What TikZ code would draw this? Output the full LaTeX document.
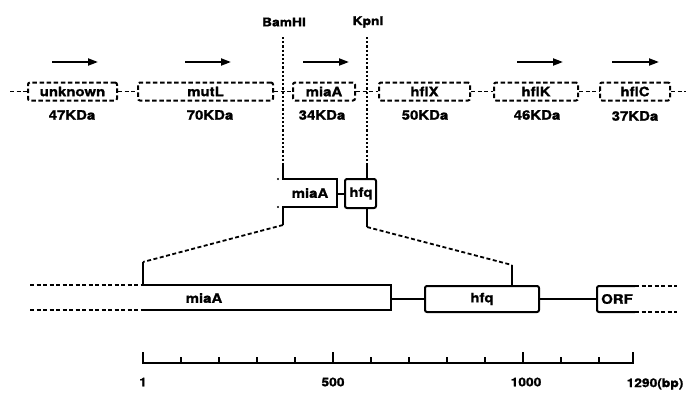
\documentclass[tikz,border=0pt]{standalone}
\usepackage{fontspec}
\setmainfont{TeX Gyre Heros}[FakeStretch=1.15,FakeBold=1.2]
\usetikzlibrary{arrows.meta}
\begin{document}
\begin{tikzpicture}[x=1pt,y=-1pt,
  every node/.style={font=\fontsize{13}{15}\selectfont\bfseries, inner sep=0pt},
  gene/.style={draw, dashed, dash pattern=on 4.5pt off 2.6pt, line width=2pt, rounded corners=2pt, minimum height=18pt},
  link/.style={dash pattern=on 4pt off 2.5pt, line width=1.8pt},
  dots/.style={dash pattern=on 2.2pt off 2pt, line width=1.5pt},
  solid2/.style={line width=2pt},
  dir/.style={line width=2pt, -{Triangle[length=10pt,width=7pt]}},
  kda/.style={},
  tick/.style={line width=2pt},
  num/.style={font=\fontsize{12}{14}\selectfont\bfseries}]
\useasboundingbox (0,0) rectangle (692,392);

% top row genes
\node[gene, minimum width=89pt] (unknown) at (72.5,91.5) {unknown};
\node[gene, minimum width=135pt] (mutL) at (205.5,91.5) {mutL};
\node[gene, minimum width=62pt] (miaA1) at (324,91.5) {miaA};
\node[gene, minimum width=91pt] (hflX) at (424.5,91.5) {hflX};
\node[gene, minimum width=84pt] (hflK) at (536,91.5) {hflK};
\node[gene, minimum width=70pt] (hflC) at (635,91.5) {hflC};
\coordinate (Lend) at (10,91.5);
\coordinate (Rend) at (686,91.5);
\draw[link] (Lend) -- (unknown.west);
\draw[link] (unknown.east) -- (mutL.west);
\draw[link] (mutL.east) -- (miaA1.west);
\draw[link] (miaA1.east) -- (hflX.west);
\draw[link] (hflX.east) -- (hflK.west);
\draw[link] (hflK.east) -- (hflC.west);
\draw[link] (hflC.east) -- (Rend);

% direction arrows
\coordinate (a1s) at (52,62); \coordinate (a1e) at (98,62);
\coordinate (a2s) at (185,62); \coordinate (a2e) at (231,62);
\coordinate (a3s) at (303,62); \coordinate (a3e) at (349,62);
\coordinate (a4s) at (517,62); \coordinate (a4e) at (563,62);
\coordinate (a5s) at (612,62); \coordinate (a5e) at (659,62);
\draw[dir] (a1s) -- (a1e);
\draw[dir] (a2s) -- (a2e);
\draw[dir] (a3s) -- (a3e);
\draw[dir] (a4s) -- (a4e);
\draw[dir] (a5s) -- (a5e);

% sizes
\node[kda] (k1) at (72,115) {47KDa};
\node[kda] (k2) at (210,115) {70KDa};
\node[kda] (k3) at (322,115) {34KDa};
\node[kda] (k4) at (425,115) {50KDa};
\node[kda] (k5) at (537,115) {46KDa};
\node[kda] (k6) at (635,116) {37KDa};

% restriction sites
\node[num] (bam) at (284,22) {BamHI};
\node[num] (kpn) at (368,22) {KpnI};
\coordinate (bamtop) at (283,37);
\coordinate (bamsol) at (283,163);
\coordinate (kpntop) at (367,37);
\coordinate (kin) at (367,163);
\draw[dots] (bamtop) -- (bamsol);
\draw[dots] (kpntop) -- (kin);

% middle fragment
\coordinate (mA) at (283,179);
\coordinate (mB) at (337,179);
\coordinate (mC) at (337,207);
\coordinate (mD) at (283,207);
\coordinate (mE) at (283,225);
\draw[solid2] (bamsol) -- (mA) -- (mB) -- (mC) -- (mD) -- (mE);
\node (miaAm) at (310,193) {miaA};
\fill (278,179) circle (1.2pt);
\fill (278,207) circle (1.2pt);
\node[draw, solid2, rounded corners=2pt, minimum width=31pt, minimum height=29pt] (hfqm) at (360.5,193.5) {\hspace*{1pt}hfq};
\draw[solid2] (mB |- hfqm.west) -- (hfqm.west);
\coordinate (kout) at (367,227);
\draw[solid2] (kin) -- (kin |- hfqm.north);
\draw[solid2] (kout |- hfqm.south) -- (kout);

% expansion lines
\coordinate (b1) at (143,262);
\coordinate (b2) at (512,265);
\draw[link] (mE) -- (b1);
\draw[link] (kout) -- (b2);

% bottom map
\coordinate (mT) at (143,285);
\coordinate (mTR) at (391,285);
\coordinate (mBR) at (391,310);
\coordinate (mB2) at (143,310);
\draw[solid2] (b1) -- (mT) -- (mTR) -- (mBR) -- (mB2);
\node (miaAb) at (204,298) {miaA};
\coordinate (dl1) at (30,285);
\coordinate (dl2) at (30,310);
\draw[link] (dl1) -- (mT);
\draw[link] (dl2) -- (mB2);

\node[draw, solid2, rounded corners=2pt, minimum width=114pt, minimum height=26pt] (hfqb) at (482,299) {hfq};
\draw[solid2] (b2) -- (b2 |- hfqb.north);
\draw[solid2] (391,299) -- (hfqb.west);

\coordinate (oT) at (635,286);
\coordinate (oB) at (635,312);
\draw[solid2, rounded corners=2pt] (oT) -- (597,286) -- (597,312) -- (oB);
\coordinate (oL) at (597,299);
\draw[solid2] (hfqb.east) -- (oL);
\node (orf) at (617,299) {ORF};
\draw[link] (oT) -- (677,286);
\draw[link] (oB) -- (677,312);

% scale
\coordinate (s0) at (143,363);
\coordinate (s1) at (633,363);
\draw[tick] (143,352) -- (s0) -- (s1) -- (633,352);
\foreach \v in {100,200,...,1200} {
  \pgfmathsetmacro{\xx}{143+0.38*\v}
  \draw[tick] (\xx,363) -- (\xx,357);
}
\draw[tick] (333,363) -- (333,352);
\draw[tick] (523,363) -- (523,352);
\node[num] (n1) at (143,382) {1};
\node[num] (n500) at (333,382) {500};
\node[num] (n1000) at (526,382) {1000};
\node[num] (n1290) at (655,384) {1290(bp)};
\end{tikzpicture}
\end{document}
